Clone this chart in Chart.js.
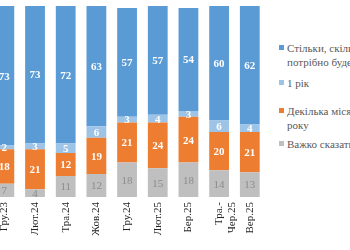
<!DOCTYPE html>
<html>
<head>
<meta charset="utf-8">
<script src="https://cdn.jsdelivr.net/npm/chart.js@4.4.0/dist/chart.umd.min.js"></script>
<style>
  html, body { margin: 0; padding: 0; background: #fff; }
  body { width: 350px; height: 250px; overflow: hidden; position: relative; font-family: "Liberation Serif", "Times New Roman", "DejaVu Serif", serif; }
  #chart { position: absolute; left: -11px; top: 0; }
  #legend { position: absolute; left: 279px; top: 0; width: 200px; }
  .item { position: absolute; left: 0; font-size: 11px; line-height: 14px; color: #595959; white-space: nowrap; }
  .item i { display: inline-block; width: 5px; height: 5px; margin-right: 3px; vertical-align: 2px; }
</style>
</head>
<body>
<canvas id="chart" width="279" height="250"></canvas>
<div id="legend"></div>
<script>
// waves of the survey
var labels = ["Гру.23", "Лют.24", "Тра.24", "Жов.24", "Гру.24", "Лют.25", "Бер.25", ["Тра.-", "Чер.25"], "Вер.25"];

// answers, %
var hardToSay = [7, 4, 11, 12, 18, 15, 18, 14, 13];
var fewMonths = [18, 21, 12, 19, 21, 24, 24, 20, 21];
var oneYear   = [2, 3, 5, 6, 3, 4, 3, 6, 4];
var asLong    = [73, 73, 72, 63, 57, 57, 54, 60, 62];

var seriesNames = ["Стільки, скільки потрібно буде", "1 рік", "Декілька місяців – до року", "Важко сказати"];
var legendLines = [["Стільки, скільки", "потрібно буде"], ["1 рік"], ["Декілька місяців – до", "року"], ["Важко сказати"]];
var legendTops = [41, 76, 104, 137];

var colors = ["#5b9bd5", "#9dc3e6", "#ed7d31", "#bfbfbf"];

var serif = '"Liberation Serif", "Times New Roman", "DejaVu Serif", serif';
Chart.defaults.font.family = serif;

// numbers inside the segments
var segLabels = {
  id: "segLabels",
  afterDatasetsDraw: function(chart){
    var ctx = chart.ctx;
    ctx.save();
    ctx.textAlign = "center";
    ctx.textBaseline = "middle";
    chart.data.datasets.forEach(function(ds, di){
      var meta = chart.getDatasetMeta(di);
      meta.data.forEach(function(bar, i){
        var mid = (bar.y + bar.base) / 2;
        if (di == 0) {
          ctx.fillStyle = "#8c8c8c";
          ctx.font = "11px " + serif;
        } else {
          ctx.fillStyle = "#ffffff";
          ctx.font = "bold 11px " + serif;
        }
        ctx.fillText(ds.data[i], bar.x, mid + 1);
      });
    });
    ctx.restore();
  }
};

var data = {
  labels: labels,
  datasets: [
    { label: seriesNames[3], data: hardToSay, backgroundColor: colors[3] },
    { label: seriesNames[2], data: fewMonths, backgroundColor: colors[2] },
    { label: seriesNames[1], data: oneYear, backgroundColor: colors[1] },
    { label: seriesNames[0], data: asLong, backgroundColor: colors[0] }
  ]
};

var chart = new Chart(document.getElementById("chart").getContext("2d"), {
  type: "bar",
  data: data,
  plugins: [segLabels],
  options: {
    responsive: false,
    animation: false,
    datasets: { bar: { barPercentage: 0.645, categoryPercentage: 1, borderWidth: 0 } },
    layout: { padding: { top: 6, left: 0, right: 0, bottom: 0 } },
    plugins: { legend: { display: false }, tooltip: { enabled: false } },
    scales: {
      x: {
        stacked: true,
        grid: { display: false, drawTicks: false },
        border: { display: false },
        ticks: { minRotation: 90, maxRotation: 90, padding: 5, color: "#262626", font: { size: 11, family: serif } },
        afterFit: function(scale){ scale.height = 53; }
      },
      y: { stacked: true, display: false, min: 0, max: 100 }
    }
  }
});

// legend as html text
var legend = document.getElementById("legend");
legendLines.forEach(function(lines, k){
  var div = document.createElement("div");
  div.className = "item";
  div.style.top = legendTops[k] + "px";
  div.innerHTML = '<i style="background:' + colors[k] + '"></i>' + lines.join('<br><span style="padding-left:8px"></span>');
  legend.appendChild(div);
});
</script>
</body>
</html>
